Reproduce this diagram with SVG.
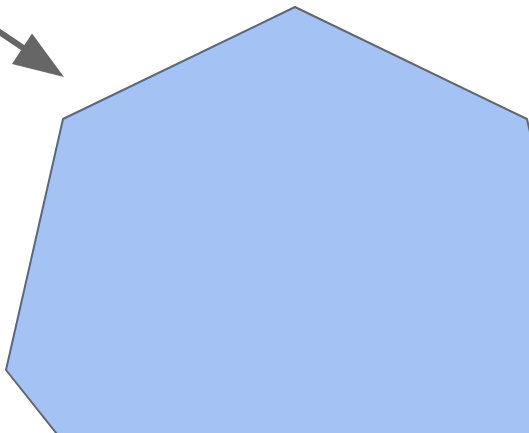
<svg xmlns="http://www.w3.org/2000/svg" width="529" height="433" viewBox="0 0 529 433">
<style>
.shape{fill:#a4c2f4;stroke:#666666;stroke-width:2;stroke-linejoin:round}
.conn{stroke:#666666;stroke-width:6;fill:none}
.head{fill:#666666;stroke:none}
</style>
<rect width="529" height="433" fill="#ffffff"/>
<g id="heptagon">
<polygon class="shape" points="295,7 527,119 584,370 424,571 166,571 6,370 63,119"/>
</g>
<g id="connectors">
<line class="conn" x1="-20" y1="19" x2="24" y2="48.5"/>
<polygon class="head" points="64,77 32,33.5 12,64"/>
</g>
</svg>
